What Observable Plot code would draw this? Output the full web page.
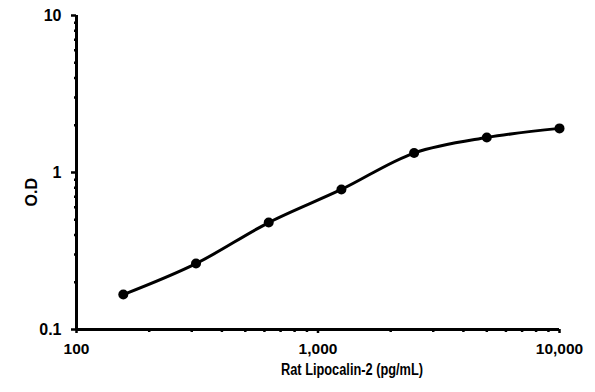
<!DOCTYPE html>
<html><head><meta charset="utf-8">
<script src="https://cdn.jsdelivr.net/npm/d3@7"></script>
<script src="https://cdn.jsdelivr.net/npm/@observablehq/plot@0.6"></script>
<style>
body{margin:0;background:#fff}
#chart svg{font-family:"Liberation Sans",Arial,sans-serif}
</style>
</head><body><div id="chart"></div>
<script>
const concentration = [156.25, 312.5, 625, 1250, 2500, 5000, 10000];
const od = [0.167, 0.263, 0.48, 0.78, 1.33, 1.67, 1.91];
const xMajorTicks = [100, 1000, 10000];
const xMinorTicks = [200, 300, 400, 500, 600, 700, 800, 900, 2000, 3000, 4000, 5000, 6000, 7000, 8000, 9000];
const yMajorTicks = [0.1, 1, 10];
const yMinorTicks = [0.2, 0.3, 0.4, 0.5, 0.6, 0.7, 0.8, 0.9, 2, 3, 4, 5, 6, 7, 8, 9];
const xTitle = "Rat Lipocalin-2 (pg/mL)";
const yTitle = "O.D";

const data = concentration.map((c, i) => ({c, od: od[i]}));

const chart = Plot.plot({
  width: 595,
  height: 392,
  marginLeft: 76,
  marginRight: 36,
  marginTop: 15,
  marginBottom: 63,
  x: {type: "log", domain: [100, 10000]},
  y: {type: "log", domain: [0.1, 10]},
  style: {fontFamily: "'Liberation Sans', Arial, sans-serif", fontWeight: "bold", fontSize: "15px", color: "#000", background: "#fff"},
  marks: [
    Plot.axisX(xMinorTicks, {tickSize: 3, text: null, strokeWidth: 2.5, label: null}),
    Plot.axisX(xMajorTicks, {tickSize: 4, tickPadding: 9, tickFormat: d3.format(","), strokeWidth: 2.5, fontSize: 15.5,
      label: xTitle, labelAnchor: "center", labelArrow: "none", labelOffset: 45}),
    Plot.axisY(yMinorTicks, {tickSize: 2, text: null, strokeWidth: 2.5, label: null}),
    Plot.axisY(yMajorTicks, {tickSize: 5, tickPadding: 10, tickFormat: d => String(d), strokeWidth: 2.5, fontSize: 16, label: null}),
    Plot.text([yTitle], {frameAnchor: "left", rotate: -90, dx: -45, dy: 34, fontSize: 16, fontWeight: "bold"}),
    Plot.ruleX([100], {strokeWidth: 3}),
    Plot.ruleY([0.1], {strokeWidth: 3}),
    Plot.line(data, {x: "c", y: "od", curve: "catmull-rom", strokeWidth: 3}),
    Plot.dot(data, {x: "c", y: "od", r: 5, fill: "#000", stroke: null})
  ]
});
d3.select(chart).selectAll('[aria-label="x-axis label"] text')
  .attr("dx", 34)
  .attr("font-size", 16)
  .attr("textLength", 142)
  .attr("lengthAdjust", "spacingAndGlyphs");
document.getElementById("chart").append(chart);
</script>
</body></html>
